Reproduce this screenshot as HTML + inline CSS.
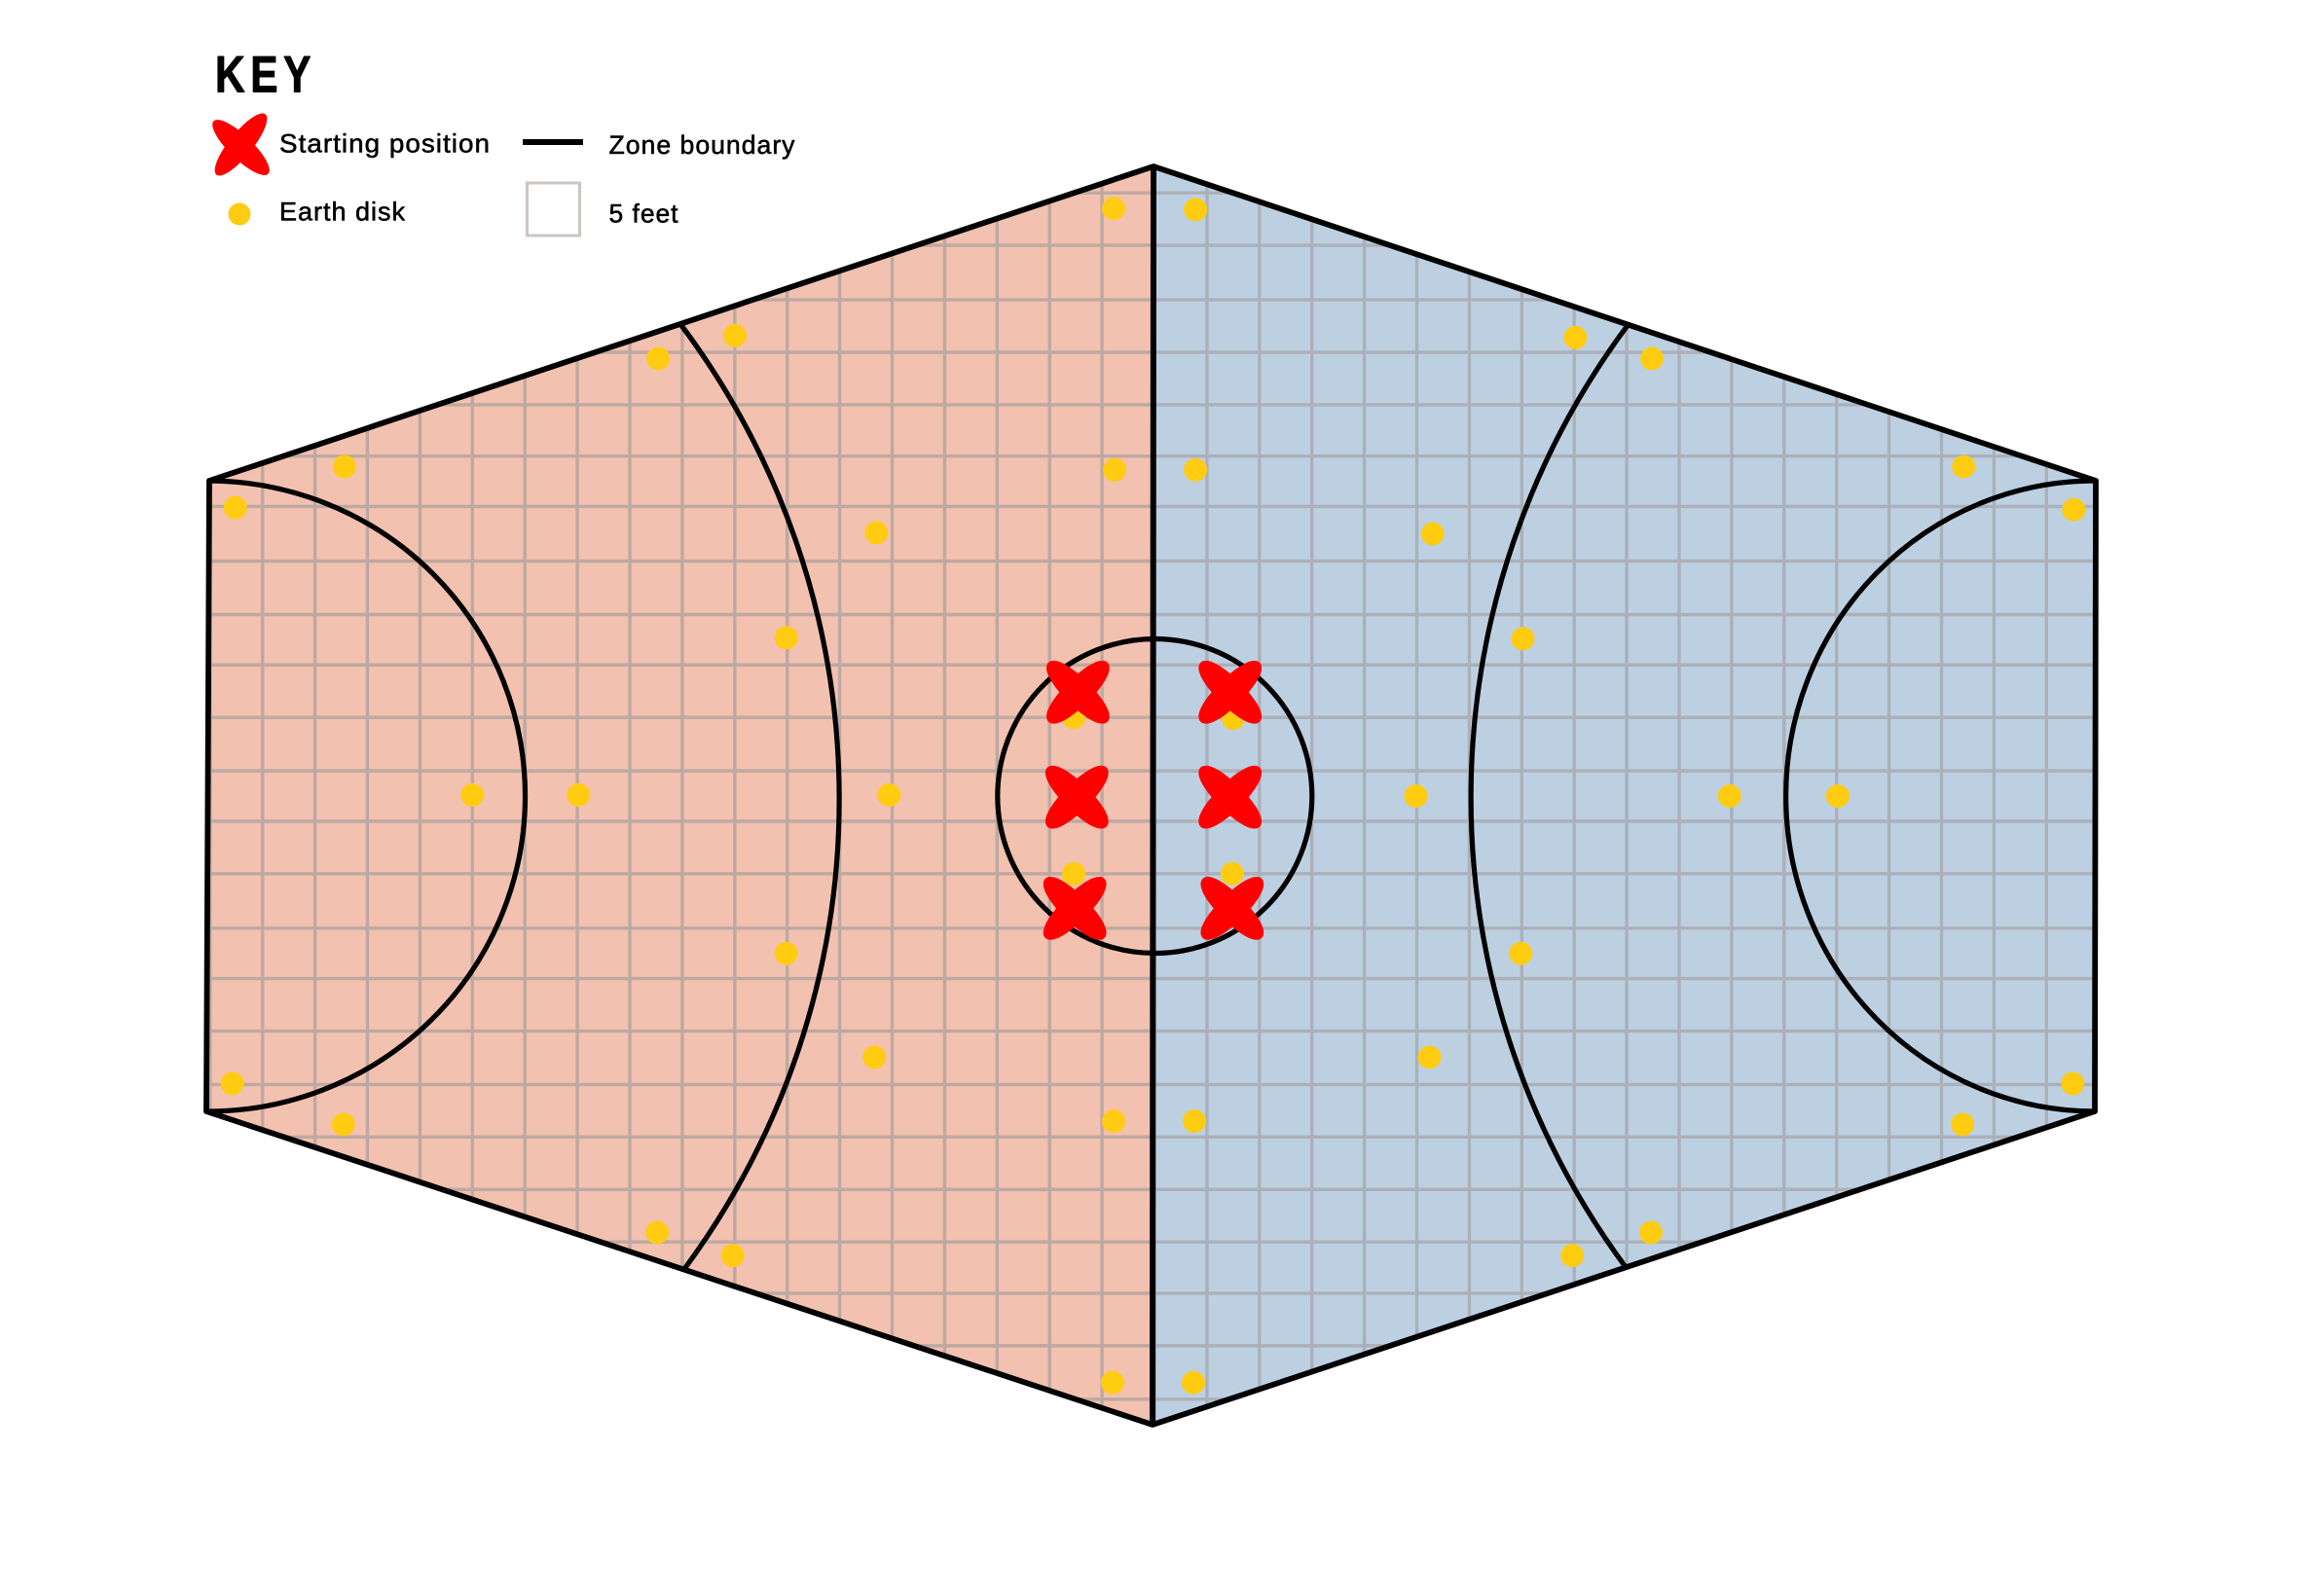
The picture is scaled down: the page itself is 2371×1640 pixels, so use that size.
<!DOCTYPE html>
<html lang="en">
<head>
<meta charset="utf-8">
<title>Game field zones</title>
<style>
html,body{margin:0;padding:0;background:#fff;width:2371px;height:1640px;overflow:hidden}
svg{display:block}
text{font-family:"Liberation Sans",sans-serif;fill:#000}
.lbl{font-size:27px;stroke:#000;stroke-width:.55px;letter-spacing:1px}
</style>
</head>
<body>
<svg id="chart" xmlns="http://www.w3.org/2000/svg" width="2371" height="1640" viewBox="0 0 2371 1640">
  <defs>
    <clipPath id="clip-left"><polygon points="1185,171 215,494 212,1142 1184,1464"/></clipPath>
    <clipPath id="clip-right"><polygon points="1185,171 2153,494 2152,1142 1184,1464"/></clipPath>
  </defs>
  <polygon points="1185,171 215,494 212,1142 1184,1464" fill="#F2C1B0"/>
  <polygon points="1185,171 2153,494 2152,1142 1184,1464" fill="#BDD0E2"/>
  <g id="grid-left" clip-path="url(#clip-left)" stroke="#BDA9A1" stroke-width="3.4"></g>
  <g id="grid-right" clip-path="url(#clip-right)" stroke="#ABB0B9" stroke-width="3.4"></g>
  <g fill="none" stroke="#000" stroke-width="5.2">
    <path d="M215 494 A325 323 0 0 1 212 1142"/>
    <path d="M2153 494 A317 323 0 0 0 2152 1142"/>
    <path d="M699 333 A812 812 0 0 1 703 1304"/>
    <path d="M1673 333 A812 812 0 0 0 1670 1302"/>
    <circle cx="1186.3" cy="818" r="161.5"/>
    <polygon points="1185,171 2153,494 2152,1142 1184,1464 212,1142 215,494" stroke-width="5.8" stroke-linejoin="round"/>
    <line x1="1185" y1="171" x2="1184" y2="1464" stroke-width="6"/>
  </g>
  <g id="disks" fill="#FFCC11"></g>
  <g id="starts" fill="#FF0000"></g>

  <g>
    <text transform="translate(221 94.5) scale(.8 1)" font-size="53" font-weight="700" letter-spacing="7" stroke="#000" stroke-width="1" stroke-linejoin="round">KEY</text>
    <g fill="#FF0000">
      <ellipse cx="247.5" cy="151.5" rx="39" ry="12" transform="rotate(44 247.5 151.5)"/>
      <ellipse cx="247.5" cy="148.5" rx="40" ry="12" transform="rotate(-51 247.5 148.5)"/>
    </g>
    <text class="lbl" x="287" y="156.5" textLength="217" lengthAdjust="spacingAndGlyphs">Starting position</text>
    <circle cx="246" cy="220" r="11.5" fill="#FFCC11"/>
    <text class="lbl" x="287" y="226.5" textLength="130" lengthAdjust="spacingAndGlyphs">Earth disk</text>
    <rect x="537" y="143" width="62" height="6" fill="#000"/>
    <text class="lbl" x="625.5" y="158" textLength="192" lengthAdjust="spacingAndGlyphs">Zone boundary</text>
    <rect x="541.5" y="188" width="54" height="54" fill="#fff" stroke="#CDC5C1" stroke-width="3"/>
    <text class="lbl" x="625.5" y="228.5" textLength="72" lengthAdjust="spacingAndGlyphs">5 feet</text>
  </g>
</svg>
<script>
// Field coordinates are in feet, measured from the centre of the field.
const gridColumnsFeet = [-90,-85,-80,-75,-70,-65,-60,-55,-50,-45,-40,-35,-30,-25,-20,-15,-10,-5,0,5,10,15,20,25,30,35,40,45,50,55,60,65,70,75,80,85,90];
const gridRowsFeet = [57.5,52.5,47.3,42.3,37.3,32.4,27.6,22.4,17.3,12.5,7.5,2.4,-2.4,-7.4,-12.6,-17.4,-22.4,-27.5,-32.5,-37.5,-42.5,-47.4,-52.4,-57.5];
const diskXFeet = [-3.8,-77.1,-87.5,-39.9,-47.2,-3.7,-26.4,-35.0,-64.9,-54.8,-25.2,-35.0,-26.6,-3.8,-87.8,-77.2,-47.3,-40.1,-3.9,-7.6,-7.6,4.0,4.0,40.2,47.5,77.2,87.7,26.6,35.2,25.0,54.9,65.2,35.0,26.3,3.9,87.6,77.1,47.4,39.9,3.8,7.6,7.5];
const diskYFeet = [56.0,31.4,27.5,43.9,41.7,31.1,25.1,15.1,0.1,0.1,0.1,-15.0,-24.9,-31.0,-27.4,-31.3,-41.6,-43.8,-55.9,7.5,-7.4,55.9,31.1,43.7,41.7,31.4,27.3,25.0,15.0,0,0,0,-15.0,-24.9,-31.0,-27.4,-31.3,-41.6,-43.8,-55.9,7.4,-7.4];
const startXFeet = [-7.2,-7.3,-7.5,7.3,7.3,7.5];
const startYFeet = [9.9,-0.1,-10.7,9.9,-0.1,-10.7];

const SVG_NS = 'http://www.w3.org/2000/svg';
const PX_PER_FOOT = 10.78;
function xScale(feet) { return 1185 + feet * PX_PER_FOOT; }
function yScale(feet) { return 818 - feet * PX_PER_FOOT; }

function drawGrid(groupId, side) {
  const group = document.getElementById(groupId);
  gridColumnsFeet.forEach(function (feet) {
    const line = document.createElementNS(SVG_NS, 'line');
    
    
    const x = xScale(feet) + 1;
    line.setAttribute('x1', x);
    line.setAttribute('x2', x);
    line.setAttribute('y1', 150);
    line.setAttribute('y2', 1480);
    group.appendChild(line);
  });
  gridRowsFeet.forEach(function (feet) {
    const line = document.createElementNS(SVG_NS, 'line');
    
    
    line.setAttribute('x1', 200);
    line.setAttribute('x2', 2170);
    line.setAttribute('y1', yScale(feet));
    line.setAttribute('y2', yScale(feet));
    group.appendChild(line);
  });
}
drawGrid('grid-left', 'left');
drawGrid('grid-right', 'right');

const diskGroup = document.getElementById('disks');
diskXFeet.forEach(function (xFeet, i) {
  const disk = document.createElementNS(SVG_NS, 'circle');
  
  
  disk.setAttribute('cx', xScale(xFeet));
  disk.setAttribute('cy', yScale(diskYFeet[i]));
  disk.setAttribute('r', 12);
  diskGroup.appendChild(disk);
});

const startGroup = document.getElementById('starts');
const ARM_SHAPE = 'M-43 0C-43-8-28-14 0-14C28-14 43-8 43 0C43 8 28 14 0 14C-28 14-43 8-43 0Z';
startXFeet.forEach(function (xFeet, i) {
  const cx = xScale(xFeet);
  const cy = yScale(startYFeet[i]);
  const cross = document.createElementNS(SVG_NS, 'g');
  
  
  [45, -45].forEach(function (angle) {
    const arm = document.createElementNS(SVG_NS, 'path');
    
    
    arm.setAttribute('d', ARM_SHAPE);
    arm.setAttribute('transform', 'translate(' + cx + ' ' + cy + ') rotate(' + angle + ')');
    cross.appendChild(arm);
  });
  startGroup.appendChild(cross);
});
</script>
</body>
</html>
